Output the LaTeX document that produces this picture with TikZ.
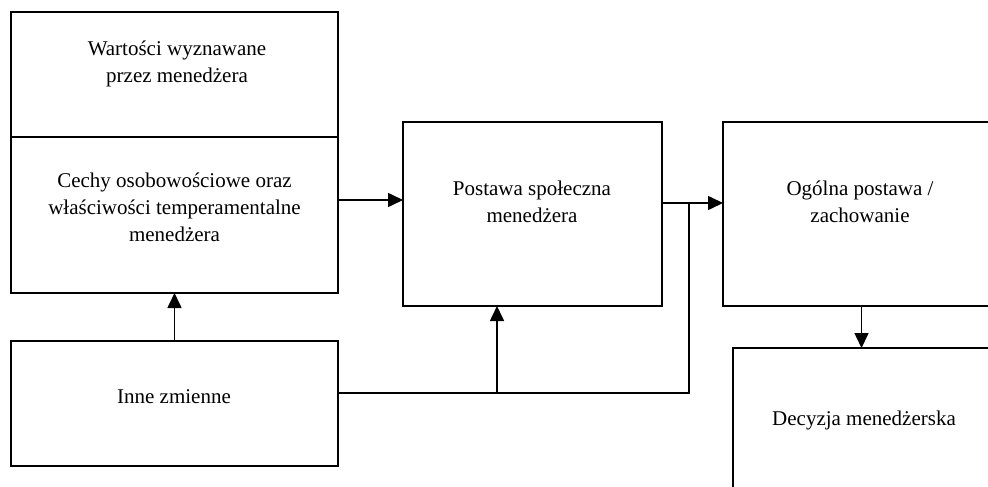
\documentclass[tikz,border=0pt]{standalone}
\usepackage{fontspec}
\setmainfont{Liberation Serif}
\usetikzlibrary{arrows.meta}

\begin{document}
\begin{tikzpicture}[x=0.5pt, y=-0.5pt,
    blok/.style={draw, line width=0.8pt, inner sep=0pt, outer sep=0pt},
    napis/.style={align=center, inner sep=0pt, font=\fontsize{10.5}{13.5}\selectfont},
    strz/.style={line width=0.8pt, -{Triangle[length=7.5pt, width=7pt]}},
    linia/.style={line width=0.8pt}]
    \clip (0,0) rectangle (988,486);
        \node(wart)[blok, minimum width=163.5pt, minimum height=62.5pt] at (174.5,74.5) {};
    \node(cechy)[blok, minimum width=163.5pt, minimum height=78pt] at (174.5,215) {};
    \node(inne)[blok, minimum width=163.5pt, minimum height=62.5pt] at (174.5,403.5) {};
    \node(post)[blok, minimum width=129.5pt, minimum height=92pt] at (532.5,214) {};
    \node(ogol)[blok, minimum width=138.5pt, minimum height=92pt] at (861.5,214) {};
    \node(dec)[blok, minimum width=133.5pt, minimum height=76pt] at (866.5,424) {};
    % texts
    \node(t1)[napis] at (177,64) {Wartości wyznawane\\przez menedżera};
    \node(t2)[napis] at (174.5,207) {Cechy osobowościowe oraz\\właściwości temperamentalne\\menedżera};
    \node(t3)[napis] at (174,397) {Inne zmienne};
    \node(t4)[napis] at (532,202) {Postawa społeczna\\menedżera};
    \node(t5)[napis] at (860,202) {Ogólna postawa /\\zachowanie};
    \node(t6)[napis] at (864,420) {Decyzja menedżerska};
    \coordinate(j) at (689,203);
    \coordinate(k) at (497,393);
    \draw[strz] ([yshift=7.5pt]cechy.east) -- ([yshift=7.5pt]cechy.east -| post.west);
    \draw[strz] (post.east |- j) -- (ogol.west |- j);
    \draw[linia] (inne.east |- k) -| (j);
    \draw[strz] (k) -- (k |- post.south);
    \draw[strz] (inne.north) -- (cechy.south);
    \draw[strz] (ogol.south) -- (ogol.south |- dec.north);
    \end{tikzpicture}
\end{document}
